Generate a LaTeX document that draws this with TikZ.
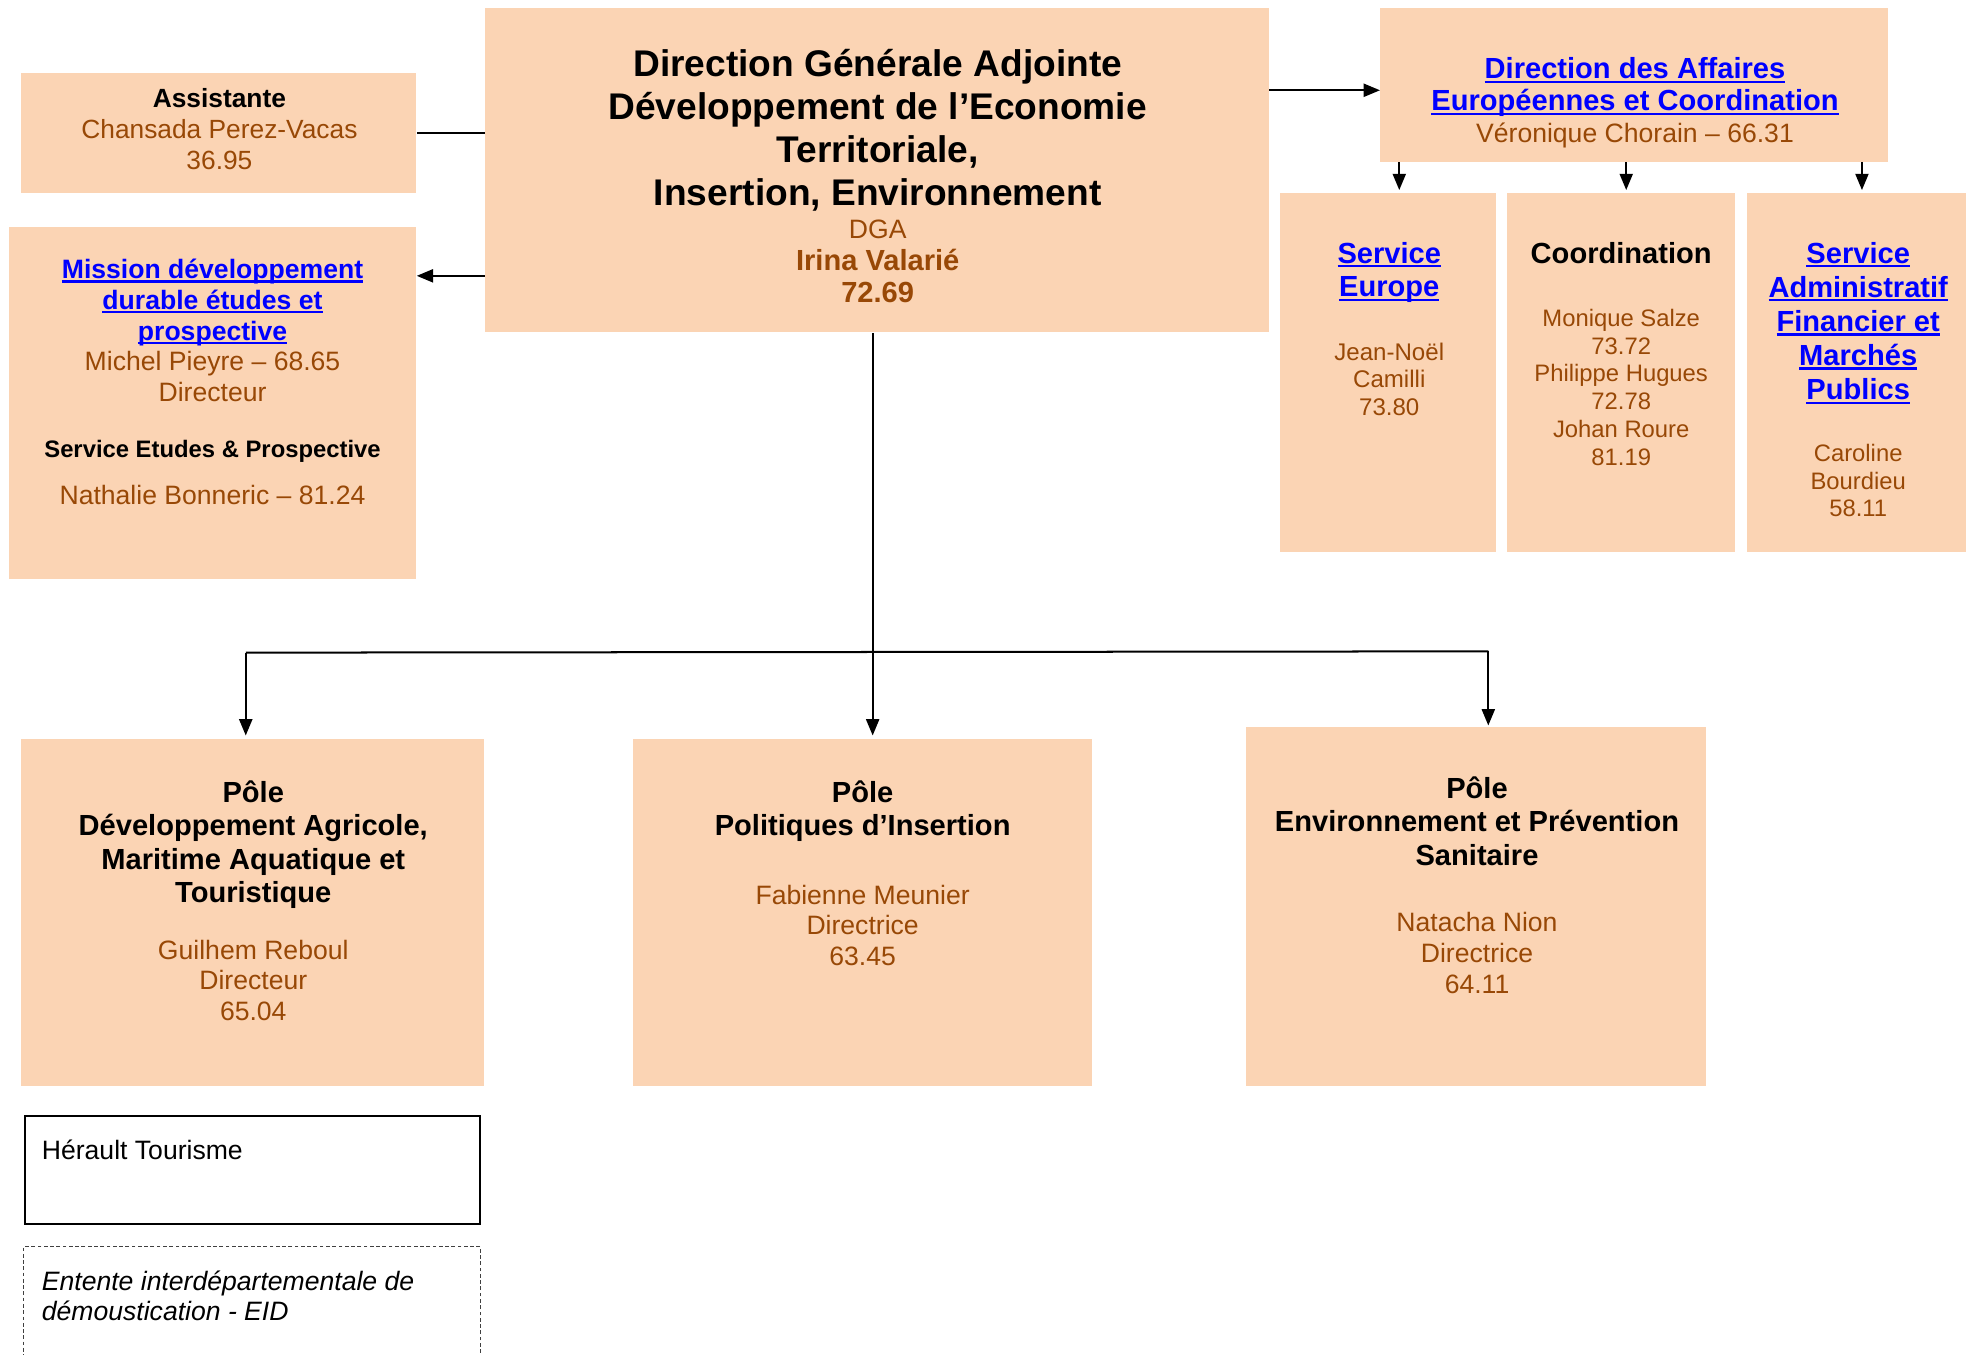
\documentclass[tikz,border=0pt]{standalone}
\usepackage{fontspec}
\setmainfont{Liberation Sans}
\usetikzlibrary{arrows.meta,fit}
\definecolor{peach}{HTML}{FBD4B4}
\definecolor{brn}{HTML}{984806}
\definecolor{lnk}{HTML}{0000FF}
\newsavebox{\lnkbox}
\newcommand{\lnkline}[1]{\sbox{\lnkbox}{#1}\rlap{\rule[-1.7pt]{\wd\lnkbox}{0.85pt}}\usebox{\lnkbox}}
\newcommand{\lnkt}[1]{\textcolor{lnk}{\bfseries\lnkline{#1}}}
\newcommand{\brtxt}[1]{\textcolor{brn}{#1}}
\newcommand{\mystrut}{\rule{0pt}{14pt}}
\begin{document}
\begin{tikzpicture}[x=0.5pt,y=-0.5pt,
  box/.style={fill=peach,inner sep=0pt,draw=none},
  txt/.style={anchor=north,inner sep=0pt,align=center},
  ltxt/.style={anchor=north west,inner sep=0pt,align=left},
  conn/.style={line width=0.8pt,black},
  arr/.style={conn,-{Triangle[length=6.5pt,width=5.2pt]}}]
\useasboundingbox (0,0) rectangle (1568,1080);

% boxes
\node[box,fit={(387,6)(1012,265)}] (main) {};
\node[box,fit={(17,58)(332,154)}] (asst) {};
\node[box,fit={(7,181)(332,462)}] (miss) {};
\node[box,fit={(1101,6)(1506,129)}] (daec) {};
\node[box,fit={(1021,154)(1193,440)}] (seu) {};
\node[box,fit={(1202,154)(1384,440)}] (coo) {};
\node[box,fit={(1393,154)(1568,440)}] (sadm) {};
\node[box,fit={(17,589)(386,866)}] (p1) {};
\node[box,fit={(505,589)(871,866)}] (p2) {};
\node[box,fit={(994,580)(1361,866)}] (p3) {};
\node[draw=black,line width=0.8pt,inner sep=0pt,fit={(20,890)(383,976)}] (ht) {};
\node[draw=black!75,line width=0.4pt,dash pattern=on 1.5pt off 1pt,inner sep=0pt,fit={(19,994)(383,1090)}] (eid) {};

% texts
\node[txt,font=\fontsize{14.8}{17.1}\selectfont\bfseries] (mainT) at (700,32.7)
  {\mystrut Direction Générale Adjointe\\Développement de l’Economie\\Territoriale,\\Insertion, Environnement};
\node[txt,font=\fontsize{11.6}{12.75}\selectfont,text=brn] (mainN) at (700,161.6)
  {\mystrut{\fontsize{10.6}{12.75}\selectfont DGA}\\\textbf{Irina Valarié}\\\textbf{72.69}};

\node[txt,font=\fontsize{10.5}{12.3}\selectfont] (asstT) at (175,57.6)
  {\mystrut\textbf{Assistante}\\\brtxt{Chansada Perez-Vacas}\\\brtxt{36.95}};

\node[txt,font=\fontsize{10.6}{12.3}\selectfont] (missT) at (169.5,193.6)
  {\mystrut\lnkt{Mission développement}\\\lnkt{durable études et}\\\lnkt{prospective}\\\brtxt{Michel Pieyre – 68.65}\\\brtxt{Directeur}};
\node[txt,font=\fontsize{9.5}{11}\selectfont\bfseries] (missS) at (169.5,336.8)
  {\mystrut Service Etudes \& Prospective};
\node[txt,font=\fontsize{10.6}{12.3}\selectfont,text=brn] (missN) at (169.5,373.6)
  {\mystrut Nathalie Bonneric – 81.24};

\node[txt,font=\fontsize{11.6}{12.75}\selectfont] (daecT) at (1304,34.4)
  {\mystrut\lnkt{Direction des Affaires}\\\lnkt{Européennes et Coordination}\\{\fontsize{10.6}{12.75}\selectfont\brtxt{Véronique Chorain – 66.31}}};

\node[txt,font=\fontsize{11.6}{13.5}\selectfont] (seuT) at (1108,181.4)
  {\mystrut\lnkt{Service}\\\lnkt{Europe}};
\node[txt,font=\fontsize{9.6}{11}\selectfont,text=brn] (seuN) at (1108,258.9)
  {\mystrut Jean-Noël\\Camilli\\73.80};

\node[txt,font=\fontsize{11.6}{13.5}\selectfont\bfseries] (cooT) at (1293,181.4)
  {\mystrut Coordination};
\node[txt,font=\fontsize{9.5}{11.1}\selectfont,text=brn] (cooN) at (1293,231.8)
  {\mystrut Monique Salze\\73.72\\Philippe Hugues\\72.78\\Johan Roure\\81.19};

\node[txt,font=\fontsize{11.6}{13.6}\selectfont] (sadmT) at (1482,181.4)
  {\mystrut\lnkt{Service}\\\lnkt{Administratif}\\\lnkt{Financier et}\\\lnkt{Marchés}\\\lnkt{Publics}};
\node[txt,font=\fontsize{9.5}{11}\selectfont,text=brn] (sadmN) at (1482,339.8)
  {\mystrut Caroline\\Bourdieu\\58.11};

\node[txt,font=\fontsize{11.6}{13.35}\selectfont\bfseries] (p1T) at (202,611.4)
  {\mystrut Pôle\\Développement Agricole,\\Maritime Aquatique et\\Touristique};
\node[txt,font=\fontsize{10.6}{12.25}\selectfont,text=brn] (p1N) at (202,736.6)
  {\mystrut Guilhem Reboul\\Directeur\\65.04};

\node[txt,font=\fontsize{11.6}{13.35}\selectfont\bfseries] (p2T) at (688,611.4)
  {\mystrut Pôle\\Politiques d’Insertion};
\node[txt,font=\fontsize{10.6}{12.25}\selectfont,text=brn] (p2N) at (688,692.6)
  {\mystrut Fabienne Meunier\\Directrice\\63.45};

\node[txt,font=\fontsize{11.6}{13.35}\selectfont\bfseries] (p3T) at (1178,608.4)
  {\mystrut Pôle\\Environnement et Prévention\\Sanitaire};
\node[txt,font=\fontsize{10.6}{12.25}\selectfont,text=brn] (p3N) at (1178,714.6)
  {\mystrut Natacha Nion\\Directrice\\64.11};

\node[ltxt,font=\fontsize{10.6}{12.3}\selectfont] (htT) at (33,896.6)
  {\mystrut Hérault Tourisme};
\node[ltxt,font=\fontsize{10.6}{12.1}\selectfont\itshape] (eidT) at (33,1000.6)
  {\mystrut Entente interdépartementale de\\démoustication - EID};

% connector levels
\coordinate (lvA) at (0,220);
\coordinate (lvB) at (0,72);
\coordinate (cx1) at (1116,0);
\coordinate (cx2) at (1297,0);
\coordinate (cx3) at (1485,0);
\coordinate (vx) at (696,0);
\coordinate (busL) at (196,520.5);
\coordinate (busM) at (696,520);
\coordinate (busR) at (1187,519.5);

% connectors
\draw[conn,line width=0.6pt] (asst.east) -- (main.west |- asst.east);
\draw[arr] (main.west |- lvA) -- (miss.east |- lvA);
\draw[arr] (main.east |- lvB) -- (daec.west |- lvB);
\draw[arr,shorten >=1pt] (daec.south -| cx1) -- (seu.north -| cx1);
\draw[arr,shorten >=1pt] (daec.south -| cx2) -- (coo.north -| cx2);
\draw[arr,shorten >=1pt] (daec.south -| cx3) -- (sadm.north -| cx3);
\draw[arr,shorten >=1pt] (main.south -| vx) -- (p2.north -| vx);
\draw[conn] (busL) -- (busM) -- (busR);
\draw[arr,shorten >=1pt] (busL) -- (p1.north -| busL);
\draw[arr,shorten >=0.5pt] (busR) -- (p3.north -| busR);
\end{tikzpicture}
\end{document}
